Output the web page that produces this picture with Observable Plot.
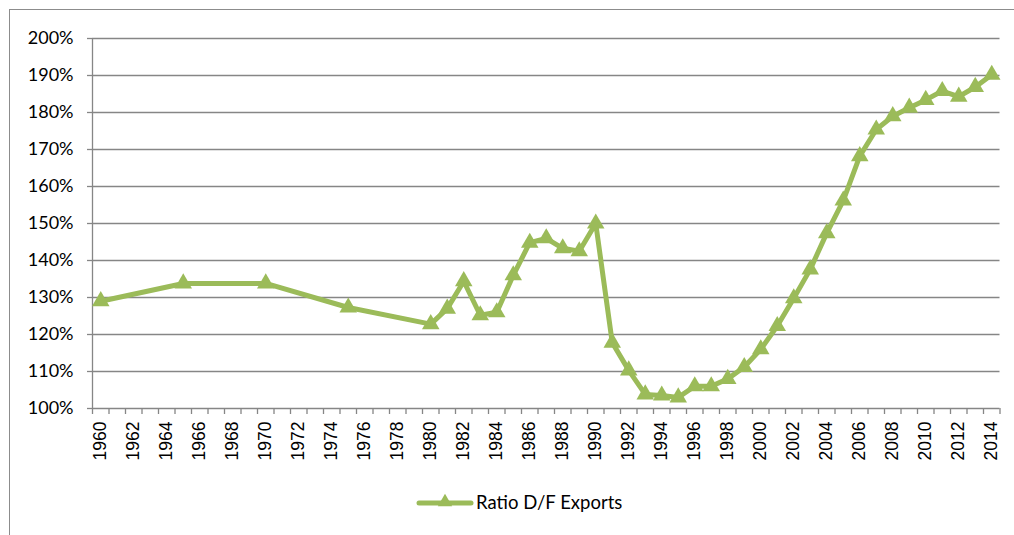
<!DOCTYPE html>
<html>
<head>
<meta charset="utf-8">
<script src="https://cdn.jsdelivr.net/npm/d3@7"></script>
<script src="https://cdn.jsdelivr.net/npm/@observablehq/plot@0.6"></script>
<style>
  html, body { margin: 0; padding: 0; background: #fff; overflow: hidden; }
  #wrap { position: relative; width: 1014px; height: 535px; }
  #frame { position: absolute; left: 9px; top: 9px; width: 1100px; height: 600px;
           border-left: 1px solid #8c8c8c; border-top: 1px solid #8c8c8c; }
  #chart { position: absolute; left: 0; top: 0; }
  #legend { position: absolute; left: 416px; top: 490px; display: flex; align-items: center;
            font-family: Lato, "Open Sans", sans-serif; font-size: 18.5px; color: #000; }
</style>
</head>
<body>
<div id="wrap">
  <div id="frame"></div>
  <div id="chart"></div>
  <div id="legend"></div>
</div>
<script>
const years = [1960, 1965, 1970, 1975, 1980, 1981, 1982, 1983, 1984, 1985, 1986, 1987, 1988, 1989,
  1990, 1991, 1992, 1993, 1994, 1995, 1996, 1997, 1998, 1999, 2000, 2001, 2002, 2003, 2004,
  2005, 2006, 2007, 2008, 2009, 2010, 2011, 2012, 2013, 2014];
const ratio = [129, 133.8, 133.8, 127.3, 122.8, 127, 134.4, 125.2, 126, 136, 144.8, 146, 143.3, 142.5,
  150, 117.8, 110.3, 103.8, 103.5, 103, 106, 106, 108, 111.2, 116, 122.3, 129.8, 137.6, 147.4,
  156.2, 168.2, 175.4, 179, 181.3, 183.4, 185.8, 184.3, 186.9, 190.2];
const yTicks = [100, 110, 120, 130, 140, 150, 160, 170, 180, 190, 200];
const xLabels = d3.range(1960, 2015, 2);
const xBounds = d3.range(1959.5, 2015, 1);
const seriesName = "Ratio D/F Exports";
const green = "#9BBB59";
const grid = "#868686";

const data = years.map((y, i) => ({year: y, value: ratio[i]}));

const plot = Plot.plot({
  width: 1014,
  height: 470,
  marginLeft: 92,
  marginRight: 14.5,
  marginTop: 38,
  marginBottom: 62,
  x: {domain: [1959.5, 2014.5]},
  y: {domain: [100, 200]},
  style: {background: "transparent", overflow: "visible"},
  marks: [
    Plot.gridY(yTicks, {stroke: grid, strokeOpacity: 1, strokeWidth: 1.3}),
    Plot.ruleX([1959.5], {stroke: grid, strokeWidth: 1.3}),
    Plot.axisY({ticks: yTicks, tickSize: 5, tickPadding: 14, stroke: grid, strokeWidth: 1.3,
      tickFormat: d => d + "%", fontSize: 18, fontFamily: "Lato, 'Open Sans', sans-serif", fill: "#000", label: null}),
    Plot.axisX({ticks: xBounds, tickSize: 6, stroke: grid, strokeWidth: 1.3, tickFormat: () => "", label: null}),
    Plot.axisX({ticks: xLabels, tickSize: 0, tickPadding: 13, tickRotate: -90, tickFormat: d => String(d),
      fontSize: 17.5, fontFamily: "'Liberation Sans', Arial, sans-serif", fill: "#000", label: null}),
    Plot.line(data, {x: "year", y: "value", stroke: green, strokeWidth: 5, strokeLinejoin: "round"}),
    Plot.dot(data, {x: "year", y: "value", symbol: "triangle", fill: green, r: 6.5})
  ]
});
document.getElementById("chart").appendChild(plot);

// legend
const leg = document.getElementById("legend");
const sw = d3.create("svg").attr("width", 58).attr("height", 24);
sw.append("line").attr("x1", 3).attr("x2", 55).attr("y1", 13).attr("y2", 13)
  .attr("stroke", green).attr("stroke-width", 5).attr("stroke-linecap", "round");
sw.append("path").attr("d", d3.symbol(d3.symbolTriangle, 90)()).attr("transform", "translate(29,12)").attr("fill", green);
leg.appendChild(sw.node());
const t = document.createElement("span");
t.textContent = seriesName;
t.style.marginLeft = "2px";
leg.appendChild(t);
</script>
</body>
</html>
